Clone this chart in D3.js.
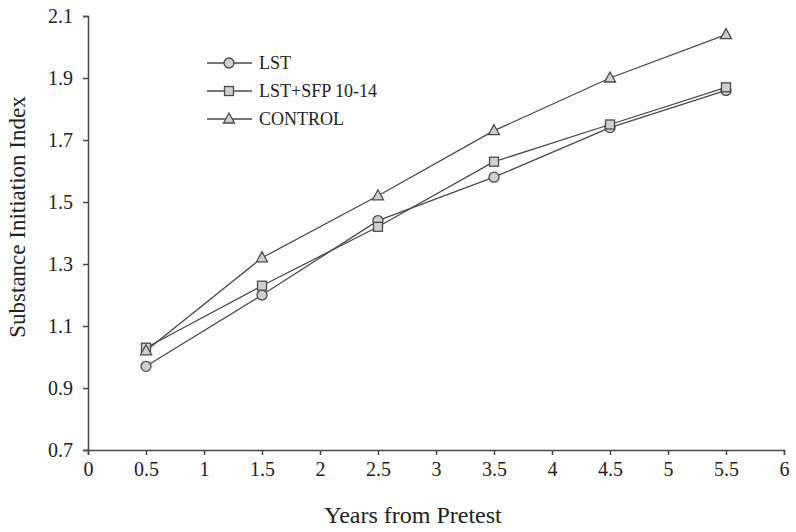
<!DOCTYPE html>
<html>
<head>
<meta charset="utf-8">
<script src="https://cdn.jsdelivr.net/npm/d3@7"></script>
<style>
body { margin: 0; background: #fff; }
text { font-family: "Liberation Serif", "Times New Roman", serif; fill: #222; }
</style>
</head>
<body>
<script>
// data
var years = [0.5, 1.5, 2.5, 3.5, 4.5, 5.5];
var lst = [0.97, 1.20, 1.44, 1.58, 1.74, 1.86];
var lstSfp = [1.03, 1.23, 1.42, 1.63, 1.75, 1.87];
var control = [1.02, 1.32, 1.52, 1.73, 1.90, 2.04];
var seriesNames = ["LST", "LST+SFP 10-14", "CONTROL"];
var xTicks = [0, 0.5, 1, 1.5, 2, 2.5, 3, 3.5, 4, 4.5, 5, 5.5, 6];
var yTicks = [0.7, 0.9, 1.1, 1.3, 1.5, 1.7, 1.9, 2.1];

var width = 796, height = 532;
var lineCol = "#4a4a4a", fillCol = "#cfcfcf";

svg = d3.select('body').append('svg')
        .attr('width', width)
        .attr('height', height);

var x = d3.scaleLinear().domain([0, 6]).range([88, 784]);
var y = d3.scaleLinear().domain([0.7, 2.1]).range([450, 16]);

// axes
var xAxis = svg.append('g')
        .attr('transform', 'translate(0,450)')
        .call(d3.axisBottom(x).tickValues(xTicks).tickSize(5).tickPadding(7)
                .tickFormat(function(d) { return String(d); }));
var yAxis = svg.append('g')
        .attr('transform', 'translate(88,0)')
        .call(d3.axisLeft(y).tickValues(yTicks).tickSize(5).tickPadding(10)
                .tickFormat(d3.format('.1f')));

[xAxis, yAxis].forEach(function(a) {
    a.attr('font-family', null);
    a.selectAll('path').attr('stroke', lineCol).attr('stroke-width', 1.5);
    a.selectAll('line').attr('stroke', lineCol).attr('stroke-width', 1.5);
    a.selectAll('text').style('font-size', '20px')
            .style('font-family', '"Liberation Serif", serif').attr('fill', '#222');
});

// titles
svg.append('text')
        .attr('x', 413).attr('y', 523)
        .attr('text-anchor', 'middle')
        .style('font-size', '24px')
        .text('Years from Pretest');
svg.append('text')
        .attr('transform', 'translate(25,217) rotate(-90)')
        .attr('text-anchor', 'middle')
        .style('font-size', '23px')
        .text('Substance Initiation Index');

var line = d3.line()
        .x(function(d, i) { return x(years[i]); })
        .y(function(d) { return y(d); });

function drawMarker(g, shape, cx, cy) {
    if (shape === 'circle') {
        g.append('circle').attr('cx', cx).attr('cy', cy).attr('r', 5)
                .attr('fill', fillCol).attr('stroke', lineCol).attr('stroke-width', 1.3);
    } else if (shape === 'square') {
        g.append('rect').attr('x', cx - 4.5).attr('y', cy - 4.5)
                .attr('width', 9).attr('height', 9)
                .attr('fill', fillCol).attr('stroke', lineCol).attr('stroke-width', 1.3);
    } else {
        g.append('path')
                .attr('d', 'M' + cx + ',' + (cy - 6) + 'L' + (cx + 5.5) + ',' + (cy + 4) +
                        'L' + (cx - 5.5) + ',' + (cy + 4) + 'Z')
                .attr('fill', fillCol).attr('stroke', lineCol).attr('stroke-width', 1.3);
    }
}

var series = [
    { name: seriesNames[0], values: lst, shape: 'circle' },
    { name: seriesNames[1], values: lstSfp, shape: 'square' },
    { name: seriesNames[2], values: control, shape: 'triangle' }
];

series.forEach(function(s) {
    svg.append('path')
            .attr('d', line(s.values))
            .attr('fill', 'none')
            .attr('stroke', lineCol)
            .attr('stroke-width', 1.3);
});
series.forEach(function(s) {
    var g = svg.append('g');
    s.values.forEach(function(v, i) {
        drawMarker(g, s.shape, x(years[i]), y(v));
    });
});

// legend
var leg = svg.append('g');
series.forEach(function(s, i) {
    var ly = 63 + i * 28;
    leg.append('line').attr('x1', 207).attr('x2', 252).attr('y1', ly).attr('y2', ly)
            .attr('stroke', lineCol).attr('stroke-width', 1.3);
    drawMarker(leg, s.shape, 229, ly);
    leg.append('text').attr('x', 259).attr('y', ly + 6)
            .style('font-size', '18px')
            .text(s.name);
});
</script>
</body>
</html>
